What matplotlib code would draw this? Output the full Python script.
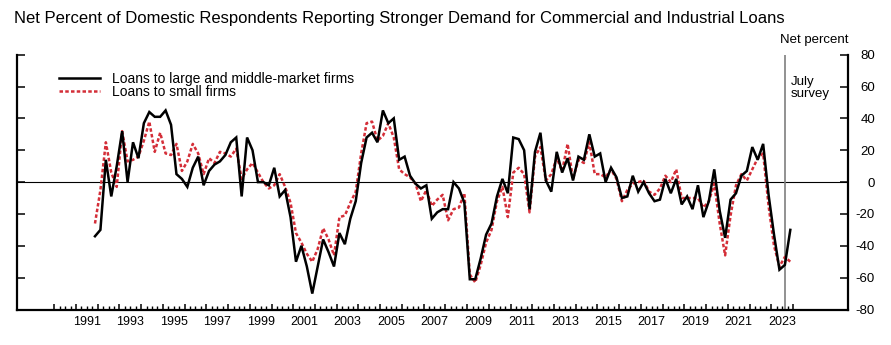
import numpy as np
import pandas as pd
import matplotlib
matplotlib.use('Agg')
import matplotlib.pyplot as plt
from matplotlib.ticker import FixedLocator, NullFormatter

plt.rcParams['font.family'] = ['Liberation Sans', 'DejaVu Sans']
plt.rcParams['axes.unicode_minus'] = False

# ---- data ----
quarters = pd.period_range('1991Q4', '2023Q4', freq='Q')

large = [-34, -30, 14, -9, 10, 32, 0, 25, 15, 37,
         44, 41, 41, 45, 36, 5, 2, -3, 9, 16,
         -2, 7, 11, 13, 17, 25, 28, -9, 28, 20,
         0, 0, -2, 9, -9, -5, -22, -50, -40, -53,
         -70, -53, -36, -44, -53, -32, -39, -23, -12, 12,
         28, 31, 25, 45, 37, 40, 14, 16, 4, -1,
         -4, -2, -23, -19, -17, -17, 0, -4, -13, -61,
         -61, -48, -33, -26, -9, 2, -7, 28, 27, 20,
         -17, 19, 31, 1, -6, 19, 6, 15, 1, 16,
         14, 30, 16, 18, 0, 9, 3, -10, -9, 4,
         -6, 0, -7, -12, -11, 2, -7, 2, -14, -9,
         -17, -2, -22, -12, 8, -18, -35, -11, -7, 4,
         7, 22, 14, 24, -8, -33, -55, -52, -30]

small = [-26, -5, 25, 6, -3, 32, 13, 14, 16, 26,
         38, 19, 31, 18, 17, 24, 7, 13, 24, 18,
         5, 15, 12, 19, 18, 16, 21, 2, 8, 12,
         6, 0, -4, -2, 5, -3, -13, -32, -38, -45,
         -50, -42, -29, -36, -46, -22, -21, -13, -6, 18,
         37, 38, 26, 29, 37, 28, 8, 5, 3, -1,
         -12, -5, -15, -11, -8, -24, -17, -16, -7, -58,
         -63, -52, -38, -30, -12, -3, -22, 6, 9, 5,
         -19, 16, 22, 1, 5, 15, 7, 24, 2, 14,
         12, 25, 5, 5, 3, 8, 2, -12, -5, -1,
         0, 1, -6, -8, -4, 4, 0, 8, -10, -10,
         -10, -10, -16, -12, -1, -26, -46, -21, -2, 5,
         1, 8, 15, 18, -15, -40, -53, -47, -50]

series_labels = ['Loans to large and middle-market firms', 'Loans to small firms']
label_years = list(range(1991, 2024, 2))
y_ticks = [-80, -60, -40, -20, 0, 20, 40, 60, 80]
survey_x = 2023.625
title = 'Net Percent of Domestic Respondents Reporting Stronger Demand for Commercial and Industrial Loans'

t = quarters.year + (quarters.quarter - 0.5) / 4.0

# ---- figure ----
W, H = 891, 345
fig = plt.figure(figsize=(W / 100, H / 100), dpi=100)
ax = fig.add_axes([17.3 / W, (H - 309.5) / H, (848 - 17.3) / W, (309.5 - 54.7) / H])

red = '#d42e38'
ax.axhline(0, color='black', lw=0.8, zorder=1)
ax.plot(t, large, color='black', lw=1.8, label=series_labels[0], zorder=3,
        solid_joinstyle='miter')
ax.plot(t, small, color=red, lw=1.8, linestyle=(0, (1.4, 0.9)),
        label=series_labels[1], zorder=2)
ax.axvline(survey_x, color='#7f7f7f', lw=1.2, zorder=1)

ax.set_xlim(1988.3, 2026.53)
ax.set_ylim(-80, 80)

ax.spines['top'].set_visible(False)
for s in ['left', 'right', 'bottom']:
    ax.spines[s].set_linewidth(1.6)

# x ticks: year starts (major) and quarters (minor)
years = np.arange(1990, 2025)
ax.xaxis.set_major_locator(FixedLocator(years))
ax.xaxis.set_major_formatter(NullFormatter())
quarts = [y + q / 4 for y in range(1990, 2024) for q in (1, 2, 3)]
ax.xaxis.set_minor_locator(FixedLocator(quarts))
ax.tick_params(axis='x', which='major', direction='in', length=4.5, width=1.1, bottom=True, top=False)
ax.tick_params(axis='x', which='minor', direction='in', length=2.6, width=1.0, bottom=True, top=False)

sec = ax.secondary_xaxis('bottom')
sec.set_xticks([y + 0.5 for y in label_years], [str(y) for y in label_years])
sec.tick_params(length=0, pad=4.5, labelsize=9)
sec.spines['bottom'].set_visible(False)

# y ticks
ax.yaxis.set_major_locator(FixedLocator(y_ticks))
ax.yaxis.set_minor_locator(FixedLocator([80]))
ax.yaxis.set_minor_formatter(NullFormatter())
ax.tick_params(axis='y', which='major', direction='in', length=5.5, width=1.1,
               left=True, right=True, labelleft=False, labelright=True, pad=19.5, labelsize=9.5)
ax.tick_params(axis='y', which='minor', direction='in', length=11.5, width=1.1,
               left=True, right=True)
for tk in ax.yaxis.get_major_ticks():
    tk.label2.set_horizontalalignment('right')

leg = ax.legend(loc='upper left', bbox_to_anchor=((59.3 - 17.3) / (848 - 17.3), (309.5 - 72) / (309.5 - 54.7)),
                frameon=False, fontsize=10, handlelength=2.9, handletextpad=0.9,
                labelspacing=-0.1, borderpad=0, borderaxespad=0)

fig.text(14 / W, 1 - 18.5 / H, title, fontsize=12, ha='left', va='center')
fig.text(848 / W, 1 - 40 / H, 'Net percent', fontsize=9.5, ha='right', va='center')
fig.text(791 / W, 1 - 76 / H, 'July\nsurvey', fontsize=9.5, ha='left', va='top', linespacing=1.05)

fig.savefig('out.png', dpi=100)
